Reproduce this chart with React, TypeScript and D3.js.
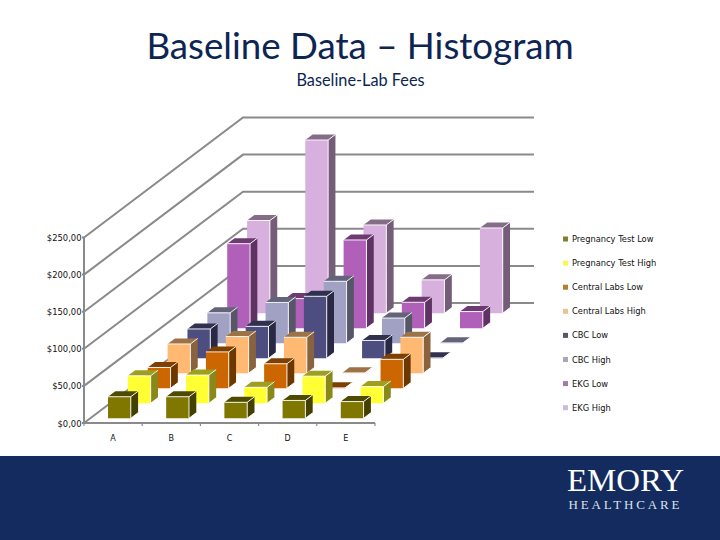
import React from 'react';
import * as d3 from 'd3';

const categories = ['A', 'B', 'C', 'D', 'E'];
const valueTicks = [0, 50, 100, 150, 200, 250];
const seriesNames = [
  'Pregnancy Test Low',
  'Pregnancy Test High',
  'Central Labs Low',
  'Central Labs High',
  'CBC Low',
  'CBC High',
  'EKG Low',
  'EKG High',
];

const pregnancyLow = [29, 29, 21.5, 24, 22.5];
const pregnancyHigh = [37, 38, 21.5, 36.5, 22.5];
const centralLow = [28, 49, 33, 0.5, 39];
const centralHigh = [39.5, 49.5, 48.5, 0.5, 48.5];
const cbcLow = [39.5, 43, 83.5, 24, 0.5];
const cbcHigh = [41, 55, 83.5, 34, 0.5];
const ekgLow = [114, 40, 119, 35, 22.5];
const ekgHigh = [125, 233.5, 119, 45, 115];
const seriesValues = [pregnancyLow, pregnancyHigh, centralLow, centralHigh, cbcLow, cbcHigh, ekgLow, ekgHigh];

const barColors = ['#7f7700', '#ffff33', '#cc6600', '#ffb973', '#4d4d80', '#a1a1c4', '#b060b8', '#d8b0de'];
const legendColors = ['#80802e', '#f8f850', '#b0802e', '#e8c490', '#55556e', '#a8a8ba', '#a878a8', '#ccbcd4'];

const navy = '#132b5e';
const titleNavy = '#0d2553';
const grey = '#8a8a8a';
const labelFont = '"DejaVu Sans", sans-serif';

// 3D box chart, oblique projection: x goes right with category and series, y goes up with depth and value
const x0 = 84;
const y0 = 423;
const xCat = d3.scaleLinear().domain([0, 5]).range([0, 291]);
const xDepth = d3.scaleLinear().domain([0, 8]).range([0, 159]);
const yDepth = d3.scaleLinear().domain([0, 8]).range([0, 120]);
const yVal = d3.scaleLinear().domain([0, 250]).range([0, 185.5]);

const project = (c: number, s: number, v: number): [number, number] => [
  x0 + xCat(c) + xDepth(s),
  y0 - yDepth(s) - yVal(v),
];

const poly = (pts: [number, number][]) => `M${pts.map((p) => p.join(',')).join('L')}Z`;

function Bar({ c, s, value }: { c: number; s: number; value: number }) {
  const base = d3.color(barColors[s])!;
  const c0 = c + 0.304;
  const c1 = c + 0.696;
  const s0 = s + 0.316;
  const s1 = s + 0.684;
  const front = poly([project(c0, s0, 0), project(c1, s0, 0), project(c1, s0, value), project(c0, s0, value)]);
  const side = poly([project(c1, s0, 0), project(c1, s1, 0), project(c1, s1, value), project(c1, s0, value)]);
  const top = poly([project(c0, s0, value), project(c1, s0, value), project(c1, s1, value), project(c0, s1, value)]);
  return (
    <g>
      <path d={side} fill={base.darker(1.75).toString()} />
      <path d={front} fill={barColors[s]} />
      <path d={top} fill={base.darker(1.35).toString()} />
      <path
        d={d3.line()([project(c0, s0, value), project(c1, s0, value), project(c1, s0, 0), project(c1, s1, 0)])!}
        fill="none"
        stroke="#fff"
        strokeWidth={0.9}
      />
      <path
        d={d3.line()([project(c1, s0, value), project(c1, s1, value)])!}
        fill="none"
        stroke="#fff"
        strokeWidth={0.9}
      />
    </g>
  );
}

export default function App() {
  const backWallX = project(5, 8, 0)[0];
  return (
    <svg width={720} height={540} style={{ position: 'absolute', left: 0, top: 0, background: '#fff' }}>
      <text x={360} y={58.5} textAnchor="middle" fontFamily="Lato, sans-serif" fontSize={36.7} fill={titleNavy}>
        Baseline Data – Histogram
      </text>
      <text x={360.5} y={86} textAnchor="middle" fontFamily="Lato, sans-serif" fontSize={16.3} fill={titleNavy}>
        Baseline-Lab Fees
      </text>

      {/* walls and gridlines */}
      {valueTicks.map((t) => {
        const [fx, fy] = project(0, 0, t);
        const [bx, by] = project(0, 8, t);
        return (
          <g key={t} fill="none" stroke={grey} strokeWidth={2}>
            <path d={d3.line()([[fx, fy], [bx, by], [backWallX, by]])!} />
            <path d={d3.line()([[fx - 2, fy], [fx, fy]])!} />
          </g>
        );
      })}
      <path d={d3.line()([project(0, 0, 0), project(0, 0, 250)])!} stroke={grey} strokeWidth={2} fill="none" />
      <path d={d3.line()([project(0, 0, 0), project(5, 0, 0)])!} stroke={grey} strokeWidth={2} fill="none" />
      {d3.range(categories.length + 1).map((i) => {
        const [tx, ty] = project(i, 0, 0);
        return <path key={i} d={d3.line()([[tx, ty], [tx, ty + 3]])!} stroke={grey} strokeWidth={1.2} />;
      })}

      {/* back rows first so the nearer ones cover them */}
      {d3.range(seriesNames.length - 1, -1, -1).map((s) =>
        categories.map((cat, c) => <Bar key={`${s}-${cat}`} c={c} s={s} value={seriesValues[s][c]} />),
      )}

      {valueTicks.map((t) => (
        <text
          key={t}
          x={81.5}
          y={project(0, 0, t)[1] + 3.5}
          textAnchor="end"
          fontFamily={labelFont}
          fontSize={8.4}
          fill="#111"
        >
          {`$${t},00`}
        </text>
      ))}
      {categories.map((cat, c) => (
        <text
          key={cat}
          x={project(c + 0.5, 0, 0)[0]}
          y={441}
          textAnchor="middle"
          fontFamily={labelFont}
          fontSize={8}
          fill="#111"
        >
          {cat}
        </text>
      ))}

      {seriesNames.map((name, i) => {
        const y = 239 + i * 24.1;
        return (
          <g key={name}>
            <rect x={563} y={y - 2.5} width={5} height={5} fill={legendColors[i]} />
            <text x={572} y={y + 3} fontFamily={labelFont} fontSize={8.3} fill="#111">
              {name}
            </text>
          </g>
        );
      })}

      <rect x={0} y={456} width={720} height={84} fill={navy} />
      <text
        x={567}
        y={491}
        fontFamily='"Liberation Serif", serif'
        fontSize={32}
        fill="#fff"
        textLength={117}
        lengthAdjust="spacingAndGlyphs"
      >
        EMORY
      </text>
      <text
        x={568.5}
        y={509}
        fontFamily='"Liberation Serif", serif'
        fontSize={13}
        fill="#dde2ec"
        textLength={111}
        lengthAdjust="spacing"
      >
        HEALTHCARE
      </text>
    </svg>
  );
}
